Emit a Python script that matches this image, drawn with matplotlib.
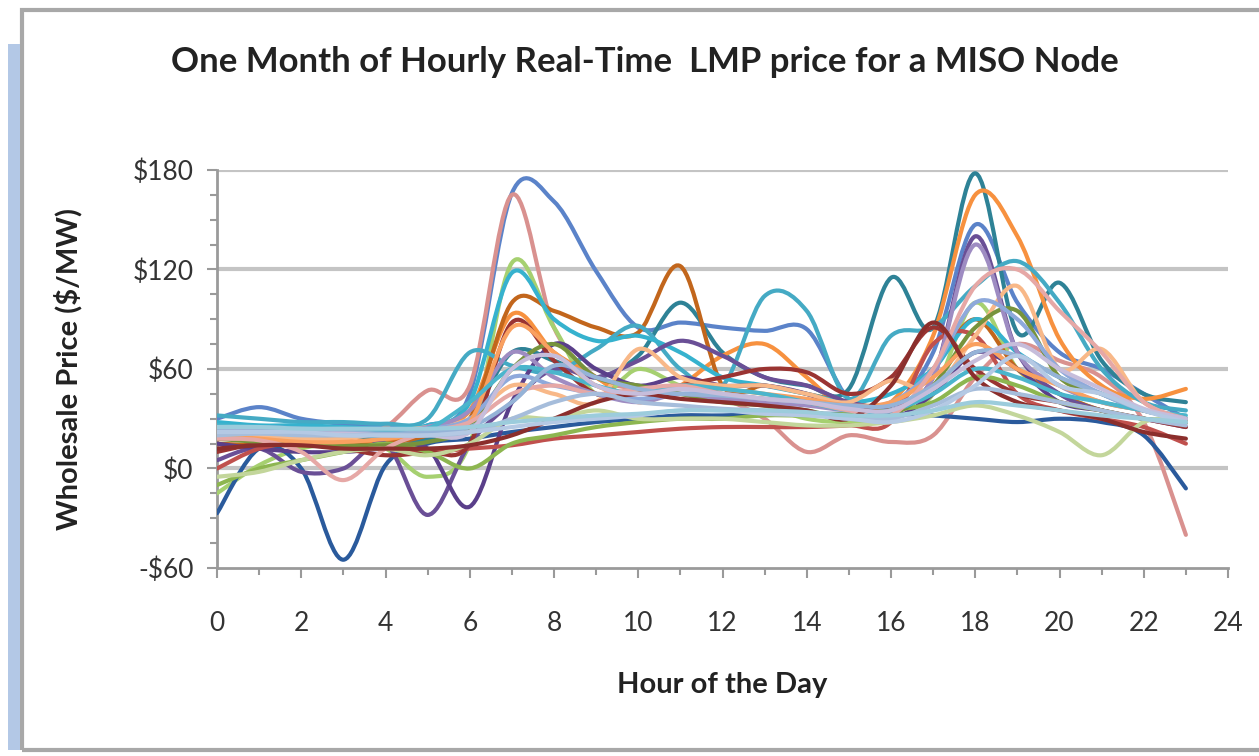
import numpy as np
import matplotlib
matplotlib.use('Agg')
import matplotlib.pyplot as plt
from matplotlib.path import Path
from matplotlib.patches import PathPatch, Rectangle
from matplotlib.ticker import MultipleLocator, FuncFormatter

plt.rcParams['font.family'] = ['Lato', 'DejaVu Sans']

# hours of the day
hours = list(range(24))

# one line per day, hourly real-time LMP ($/MW)
day01 = [30, 37, 30, 27, 26, 26, 45, 166, 161, 119, 85, 88, 85, 83, 84, 42, 38, 70, 147, 100, 70, 60, 45, 30]
day02 = [20, 22, 20, 18, 25, 47, 50, 165, 85, 55, 48, 45, 42, 30, 10, 20, 16, 20, 55, 75, 65, 55, 28, -40]
day03 = [-15, 2, 12, 15, 12, -5, 15, 124, 85, 45, 60, 50, 45, 38, 30, 28, 30, 45, 100, 60, 45, 35, 30, 28]
day04 = [25, 22, 20, 20, 18, 18, 30, 70, 65, 55, 68, 100, 70, 55, 50, 48, 115, 85, 178, 82, 112, 65, 45, 40]
day05 = [18, 20, 18, 15, 16, 25, 35, 93, 70, 55, 40, 50, 68, 75, 55, 35, 40, 80, 165, 140, 78, 50, 42, 48]
day06 = [15, 14, 14, 14, 15, 20, 30, 100, 95, 85, 82, 122, 50, 50, 45, 40, 38, 60, 90, 60, 45, 35, 30, 28]
day07 = [32, 30, 28, 28, 27, 30, 70, 62, 58, 72, 86, 60, 50, 104, 95, 42, 80, 85, 110, 125, 100, 60, 40, 35]
day08 = [28, 26, 26, 25, 24, 26, 40, 118, 90, 77, 80, 70, 55, 50, 45, 40, 45, 60, 90, 70, 55, 45, 35, 30]
day09 = [-27, 12, 0, -55, 2, 15, 18, 22, 25, 28, 30, 32, 32, 33, 33, 33, 33, 32, 30, 28, 30, 28, 20, -12]
day10 = [5, 12, -2, 0, 15, -28, 15, 40, 60, 55, 65, 77, 68, 55, 50, 40, 38, 55, 140, 70, 45, 35, 30, 25]
day11 = [15, 12, 10, 10, 12, 12, -23, 40, 75, 60, 50, 55, 50, 50, 45, 35, 30, 45, 70, 60, 40, 35, 30, 28]
day12 = [0, 12, 15, 12, 12, 10, 12, 14, 18, 20, 22, 24, 25, 25, 25, 26, 28, 75, 80, 45, 35, 30, 25, 15]
day13 = [10, 15, 15, 12, 8, 10, 15, 88, 65, 45, 45, 50, 55, 60, 58, 45, 55, 85, 60, 45, 40, 35, 30, 25]
day14 = [20, 20, 18, 18, 22, 25, 30, 50, 45, 40, 72, 55, 50, 50, 45, 40, 53, 48, 80, 110, 60, 72, 40, 30]
day15 = [-10, 0, 5, 10, 15, 10, 0, 15, 20, 25, 28, 30, 30, 32, 32, 33, 35, 40, 55, 50, 40, 35, 30, 28]
day16 = [18, 16, 15, 14, 14, 16, 25, 60, 75, 55, 50, 45, 40, 38, 35, 30, 32, 50, 85, 95, 55, 45, 35, 30]
day17 = [25, 24, 22, 22, 22, 25, 35, 70, 55, 45, 40, 45, 42, 40, 38, 35, 35, 55, 135, 70, 50, 40, 35, 30]
day18 = [-5, -2, 5, 10, 12, 8, 15, 30, 30, 35, 30, 30, 30, 28, 26, 26, 28, 32, 38, 32, 22, 8, 28, 30]
day19 = [25, 25, 24, 23, 22, 24, 30, 55, 50, 45, 42, 45, 45, 42, 40, 38, 40, 60, 100, 90, 60, 45, 35, 30]
day20 = [20, 18, 16, 16, 18, 22, 28, 85, 70, 50, 45, 50, 48, 45, 42, 38, 40, 55, 75, 60, 50, 40, 35, 30]
day21 = [26, 25, 24, 24, 22, 24, 40, 60, 58, 50, 45, 50, 48, 45, 40, 35, 35, 45, 60, 55, 45, 40, 35, 32]
day22 = [18, 17, 10, -7, 12, 22, 28, 45, 50, 45, 48, 50, 45, 42, 40, 35, 32, 60, 110, 120, 95, 70, 40, 30]
day23 = [12, 14, 14, 12, 12, 12, 14, 20, 30, 40, 45, 42, 40, 38, 35, 30, 50, 88, 55, 40, 35, 30, 22, 18]
day24 = [24, 23, 22, 22, 21, 22, 25, 40, 62, 55, 48, 45, 44, 42, 40, 38, 38, 50, 70, 68, 55, 45, 35, 30]
day25 = [22, 22, 21, 21, 20, 20, 22, 60, 68, 50, 45, 48, 45, 42, 40, 36, 35, 48, 65, 75, 60, 48, 36, 30]
day26 = [20, 21, 20, 20, 20, 20, 22, 30, 40, 45, 40, 38, 36, 35, 33, 30, 30, 38, 48, 45, 40, 35, 30, 26]
day27 = [22, 22, 22, 20, 20, 20, 22, 25, 28, 30, 32, 35, 35, 33, 32, 30, 28, 35, 50, 68, 50, 45, 35, 28]
day28 = [25, 25, 24, 24, 24, 24, 25, 28, 30, 32, 33, 35, 35, 35, 34, 32, 32, 35, 40, 38, 35, 32, 30, 28]

days = [day01, day02, day03, day04, day05, day06, day07, day08, day09, day10,
        day11, day12, day13, day14, day15, day16, day17, day18, day19, day20,
        day21, day22, day23, day24, day25, day26, day27, day28]

colors = ['#5B83C9', '#D9918F', '#A6D070', '#2E8296', '#F7913F', '#C2661C', '#45AAC4', '#36B2CE',
          '#2A5A9C', '#6A4F96', '#5A3F8A', '#C0504D', '#9A3432', '#F8B888', '#8DB650', '#77933C',
          '#9E8CC2', '#C3D69B', '#8EA9DB', '#F9A060', '#4BB5CC', '#E6A8A6', '#8B2E2C', '#95B3D7',
          '#C6BDDB', '#A6BDDB', '#B4C9E4', '#9CCCDC']

y_ticks = [-60, 0, 60, 120, 180]
x_ticks = list(range(0, 25, 2))


# Excel-style smoothed line: cubic bezier through every hourly point
def smooth_path(x, y):
    n = len(x)
    verts = [(x[0], y[0])]
    codes = [Path.MOVETO]
    for i in range(n - 1):
        a = max(i - 1, 0)
        b = min(i + 2, n - 1)
        c1 = (x[i] + (x[i + 1] - x[a]) / 6.0, y[i] + (y[i + 1] - y[a]) / 6.0)
        c2 = (x[i + 1] - (x[b] - x[i]) / 6.0, y[i + 1] - (y[b] - y[i]) / 6.0)
        verts += [c1, c2, (x[i + 1], y[i + 1])]
        codes += [Path.CURVE4] * 3
    return Path(verts, codes)


fig = plt.figure(figsize=(12.59, 7.56), dpi=100)
ax = fig.add_axes([217 / 1259, 1 - 568 / 756, (1228 - 217) / 1259, (568 - 170) / 756])

for d, c in zip(days, colors):
    ax.add_patch(PathPatch(smooth_path(hours, d), fill=False, edgecolor=c, lw=3,
                           capstyle='round', joinstyle='round', zorder=3))

ax.set_xlim(0, 24)
ax.set_ylim(-60, 180)
ax.set_xticks(x_ticks)
ax.xaxis.set_minor_locator(MultipleLocator(1))
ax.set_yticks(y_ticks)
ax.yaxis.set_minor_locator(MultipleLocator(15))
ax.yaxis.set_major_formatter(FuncFormatter(lambda v, p: ('-$%d' % -v) if v < 0 else '$%d' % v))

for y in y_ticks[1:]:
    ax.axhline(y, color='#C4C4C4', lw=3, zorder=1)

for s in ['top', 'right']:
    ax.spines[s].set_visible(False)
for s in ['left', 'bottom']:
    ax.spines[s].set_color('#9A9A9A')
    ax.spines[s].set_linewidth(2)

ax.tick_params(which='both', direction='out', color='#9A9A9A', width=1.5)
ax.tick_params(which='major', length=7, labelsize=19, labelcolor='#333333')
ax.tick_params(axis='y', which='major', pad=10)
ax.tick_params(axis='x', which='major', pad=24)
ax.tick_params(which='minor', length=5)

ax.set_xlabel('Hour of the Day', fontsize=21, fontweight='bold', color='#222222', labelpad=26)
ax.set_ylabel('Wholesale Price ($/MW)', fontsize=21, fontweight='bold', color='#222222', labelpad=36)
fig.text(0.512, 0.918, 'One Month of Hourly Real-Time  LMP price for a MISO Node',
         ha='center', va='center', fontsize=25, fontweight='bold', color='#222222')

# chart frame like the pasted Excel chart
fig.add_artist(Rectangle((22 / 1259, 6 / 756), 1.2, 1 - 16 / 756, transform=fig.transFigure,
                         fill=False, edgecolor='#A8A8A8', lw=3))
fig.add_artist(Rectangle((8 / 1259, 6 / 756), 12 / 1259, 1 - 50 / 756, transform=fig.transFigure,
                         facecolor='#B3C8E6', edgecolor='none'))

fig.savefig('out.png', dpi=100)
